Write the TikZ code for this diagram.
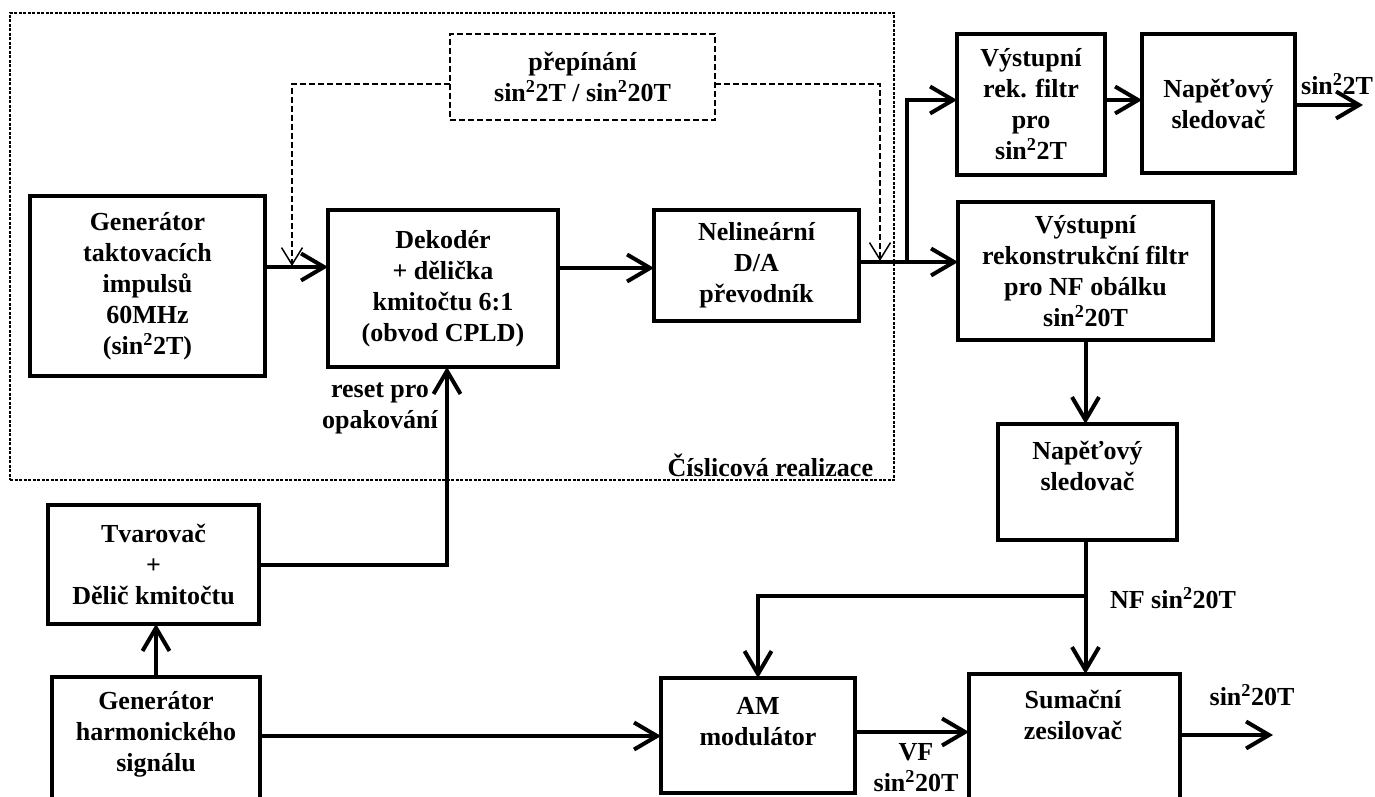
\documentclass[tikz,border=0pt]{standalone}
\usepackage{fontspec}
\setmainfont{Liberation Serif}
\usetikzlibrary{arrows.meta,calc}
\newcommand\supii{\textsuperscript{2}}
\begin{document}
\begin{tikzpicture}[x=1pt,y=-1pt,
  every node/.style={font=\fontsize{26}{31}\selectfont\bfseries, align=center, inner sep=0pt, outer sep=0pt},
  blk/.style={draw, line width=4pt},
  swbox/.style={draw, line width=1.5pt, dash pattern=on 6pt off 3pt},
  frame/.style={draw, line width=1.3pt, dash pattern=on 3pt off 1.5pt},
  conn/.style={line width=4pt, -{Straight Barb[length=23pt,width=27pt]}},
  ctl/.style={line width=1.5pt, dash pattern=on 6pt off 3pt, -{Straight Barb[length=17pt,width=21pt]}},
]
\useasboundingbox (0,0) rectangle (1375,797);
\clip (0,0) rectangle (1375,797);

% digital section frame
\node[frame, minimum width=884, minimum height=467] (digi) at (452,246.5) {};
\node[anchor=east] (digilbl) at (873,465) {Číslicová realizace};

% switching block
\node[swbox, minimum width=265, minimum height=86] (sw) at (582.5,77) {přepínání\\sin\supii2T / sin\supii20T};

% blocks
\node[blk, minimum width=235, minimum height=180] (gent) at (147.5,286) {Generátor\\taktovacích\\impulsů\\60MHz\\(sin\supii2T)};
\node[blk, minimum width=230, minimum height=157] (dek) at (443,288.5) {Dekodér\\+ dělička\\kmitočtu 6:1\\(obvod CPLD)};
\node[blk, minimum width=205, minimum height=111] (nel) at (756.5,265.5) {Nelineární\\D/A\\převodník};
\node[blk, minimum width=148, minimum height=141] (vrf) at (1031,104.5) {Výstupní\\rek. filtr\\pro\\sin\supii2T};
\node[blk, minimum width=153, minimum height=139] (ns1) at (1218.5,103.5) {Napěťový\\sledovač};
\node[blk, minimum width=255, minimum height=138] (vrk) at (1085.5,271) {Výstupní\\rekonstrukční filtr\\pro NF obálku\\sin\supii20T};
\node[blk, minimum width=179, minimum height=116] (ns2) at (1087.5,482) {};
\node (ns2t) at (1087.5,466) {Napěťový\\sledovač};
\node[blk, minimum width=211, minimum height=119] (tvar) at (153.5,564.5) {Tvarovač\\+\\Dělič kmitočtu};
\node[blk, minimum width=208, minimum height=153] (genh) at (156,753.5) {};
\node (genht) at (156,734) {Generátor\\harmonického\\signálu};
\node[blk, minimum width=194, minimum height=115] (am) at (758,735.5) {};
\node (amt) at (758,722) {AM\\modulátor};
\node[blk, minimum width=211, minimum height=156] (sum) at (1074.5,752) {};
\node (sumt) at (1073,715) {Sumační\\zesilovač};

% signal path
\draw[conn] ([yshift=19pt]gent.east) -- ([yshift=19pt]gent.east -| dek.west);
\draw[conn] ([yshift=20.5pt]dek.east) -- ([yshift=20.5pt]dek.east -| nel.west);
\coordinate (br) at (907,262);
\draw[conn] ([yshift=3.5pt]nel.east) -- ([yshift=3.5pt]nel.east -| vrk.west);
\draw[conn] (br) |- ([yshift=4.5pt]vrf.west);
\draw[conn] ([yshift=4.5pt]vrf.east) -- ([yshift=4.5pt]vrf.east -| ns1.west);
\coordinate (o1) at (1363,105);
\draw[conn] (ns1.east |- o1) -- (o1);
\node (o1lbl) at (1337,84) {sin\supii2T};

\draw[conn] (vrk.south) -- (vrk.south |- ns2.north);
\draw[conn] (ns2.south -| vrk.south) -- (vrk.south |- sum.north);
\coordinate (nfb) at (1085,596);
\draw[conn] (nfb) -| (am.north);
\node (nflbl) at (1173,598) {NF sin\supii20T};

\draw[conn] ([yshift=17.5pt]genh.east) -- ([yshift=17.5pt]genh.east -| am.west);
\draw[conn] ([yshift=3.5pt]am.east) -- ([yshift=3.5pt]am.east -| sum.west);
\node (vflbl) at (916,768) {VF\\sin\supii20T};
\coordinate (o2) at (1273,735);
\draw[conn] (sum.east |- o2) -- (o2);
\node (o2lbl) at (1252,695) {sin\supii20T};

\draw[conn] (genh.north) -- (genh.north |- tvar.south);
\draw[conn] (tvar.east) -| ([xshift=4pt]dek.south);
\node (rstlbl) at (380,408) {reset pro\\opakování};

% switching control
\coordinate (swL) at (292,266);
\coordinate (swR) at (880,261);
\draw[ctl] ([yshift=-7pt]sw.west) -| (swL);
\draw[ctl] ([yshift=-7pt]sw.east) -| (swR);
\end{tikzpicture}
\end{document}
